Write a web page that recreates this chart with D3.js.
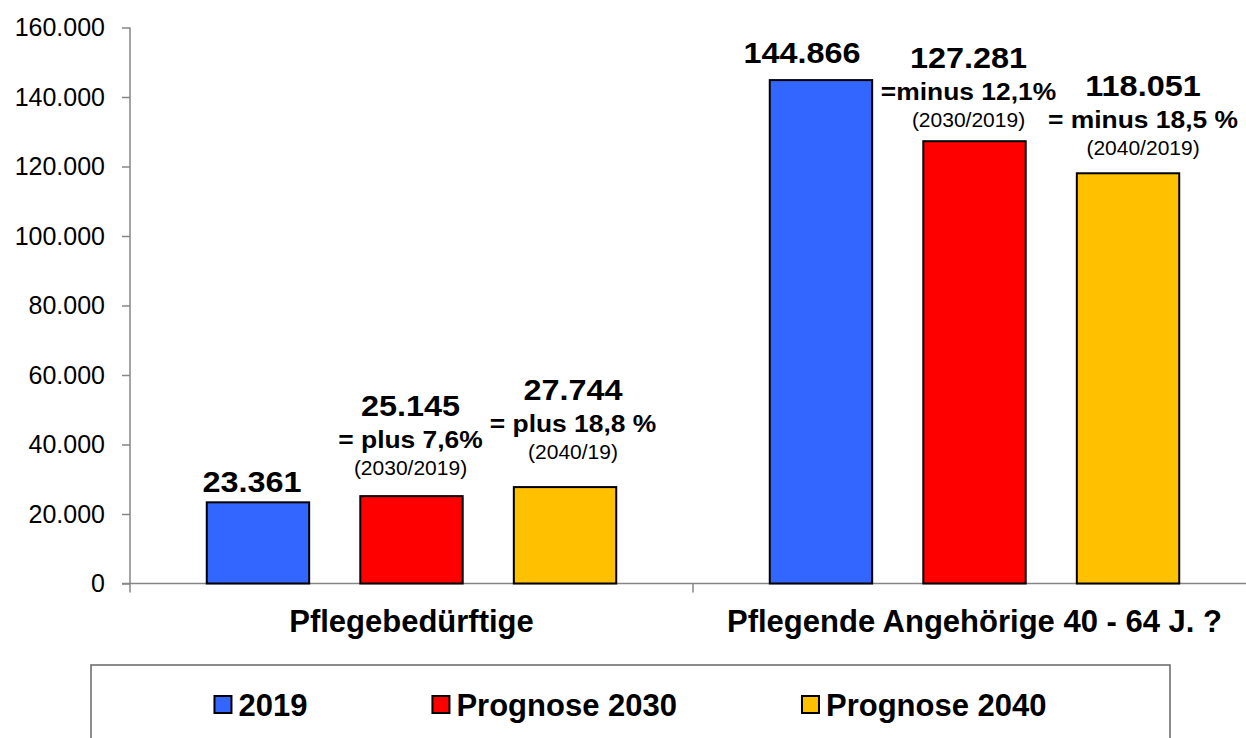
<!DOCTYPE html>
<html>
<head>
<meta charset="utf-8">
<script src="https://cdn.jsdelivr.net/npm/d3@7"></script>
<style>
  body { margin: 0; background: #fff; }
  svg { display: block; font-family: "Liberation Sans", Arial, sans-serif; }
</style>
</head>
<body>
<div id="chart"></div>
<script>
// data
var categories = ["Pflegebedürftige", "Pflegende Angehörige 40 - 64 J. ?"];
var seriesNames = ["2019", "Prognose 2030", "Prognose 2040"];
var values2019 = [23361, 144866];
var values2030 = [25145, 127281];
var values2040 = [27744, 118051];
var change2030 = ["= plus 7,6%", "=minus 12,1%"];
var change2040 = ["= plus 18,8 %", "= minus 18,5 %"];
var basis2030 = ["(2030/2019)", "(2030/2019)"];
var basis2040 = ["(2040/19)", "(2040/2019)"];
var yTickValues = [0, 20000, 40000, 60000, 80000, 100000, 120000, 140000, 160000];

var colors = ["#3366FF", "#FF0000", "#FFC000"];

// hand placed label nudges [dx, lift above bar top], per category then series
var labelNudge = [
    [[-6, 10], [-1, 21], [8, 28]],
    [[-19, 17], [-6, 14], [15, 18]]
];

var width = 1246, height = 738;
var svg = d3.select("#chart").append("svg").attr("width", width).attr("height", height);

var de = d3.formatLocale({decimal: ",", thousands: ".", grouping: [3], currency: ["", " €"]});
var fmt = de.format(",d");

var y = d3.scaleLinear().domain([0, 160000]).range([583.5, 27.5]);
var x0 = d3.scaleBand().domain(categories).range([130, 1256]).padding(0);
var x1 = d3.scaleBand().domain(seriesNames).range([0, x0.bandwidth()]).paddingInner(0.333).paddingOuter(0.5);

var allValues = [values2019, values2030, values2040];
var rows = [];
categories.forEach(function(c, ci) {
    seriesNames.forEach(function(s, si) {
        var lines = [fmt(allValues[si][ci])];
        if (si == 1) { lines.push(change2030[ci]); lines.push(basis2030[ci]); }
        if (si == 2) { lines.push(change2040[ci]); lines.push(basis2040[ci]); }
        rows.push({cat: c, ci: ci, series: s, si: si, value: allValues[si][ci], lines: lines});
    });
});

var axisColor = "#868686";

// y axis
var yAxis = svg.append("g").attr("transform", "translate(130,0)")
    .call(d3.axisLeft(y).tickValues(yTickValues).tickSize(8).tickSizeOuter(0).tickPadding(17).tickFormat(fmt));
yAxis.attr("font-family", null);
yAxis.selectAll("path, line").attr("stroke", axisColor).attr("stroke-width", 1.5);
yAxis.selectAll("text").attr("font-size", 25).attr("fill", "#000");
yAxis.select(".domain").attr("d", "M0," + y(160000) + "V" + (y(0) + 9));

// x axis line and category separators
svg.append("line").attr("x1", 122).attr("x2", x0.range()[1]).attr("y1", y(0)).attr("y2", y(0))
    .attr("stroke", axisColor).attr("stroke-width", 1.5);
svg.selectAll(".sep").data(categories.slice(1).concat(["end"])).enter().append("line")
    .attr("x1", function(d, i) { return x0.range()[0] + x0.step() * (i + 1); })
    .attr("x2", function(d, i) { return x0.range()[0] + x0.step() * (i + 1); })
    .attr("y1", y(0)).attr("y2", y(0) + 9)
    .attr("stroke", axisColor).attr("stroke-width", 1.5);

svg.selectAll(".cat").data(categories).enter().append("text")
    .attr("x", function(d) { return x0(d) + x0.bandwidth() / 2; })
    .attr("y", 632)
    .attr("text-anchor", "middle").attr("font-size", 31).attr("font-weight", "bold")
    .text(function(d) { return d; });

// bars
svg.selectAll(".bar").data(rows).enter().append("rect")
    .attr("x", function(d) { return x0(d.cat) + x1(d.series); })
    .attr("y", function(d) { return y(d.value); })
    .attr("width", x1.bandwidth())
    .attr("height", function(d) { return y(0) - y(d.value); })
    .attr("fill", function(d) { return colors[d.si]; })
    .attr("stroke", "#000").attr("stroke-width", 2);

// value labels
var lineGap = [32, 27];
rows.forEach(function(d) {
    var nudge = labelNudge[d.ci][d.si];
    var cx = x0(d.cat) + x1(d.series) + x1.bandwidth() / 2 + nudge[0];
    var base = y(d.value) - nudge[1];
    var n = d.lines.length;
    var ys = [];
    var cur = base;
    for (var i = n - 1; i >= 0; i--) {
        ys[i] = cur;
        if (i > 0) cur -= lineGap[i - 1];
    }
    d.lines.forEach(function(t, i) {
        var size = i == 0 ? 30 : (i == 1 ? 24 : 21);
        var sx = i == 0 ? 1.08 : (i == 1 ? 1.1 : 1);
        svg.append("text")
            .attr("transform", "translate(" + cx + "," + ys[i] + ") scale(" + sx + ",1)")
            .attr("text-anchor", "middle")
            .attr("font-size", size)
            .attr("font-weight", i == 2 ? "normal" : "bold")
            .text(t);
    });
});

// legend
var legendBox = {x: 91, y: 665, w: 1079, h: 100};
svg.append("rect").attr("x", legendBox.x).attr("y", legendBox.y)
    .attr("width", legendBox.w).attr("height", legendBox.h)
    .attr("fill", "#fff").attr("stroke", "#666").attr("stroke-width", 1.5);

var leg = svg.append("g");
var items = leg.selectAll(".item").data(seriesNames).enter().append("g");
items.append("rect").attr("width", 17).attr("height", 17).attr("y", -20)
    .attr("fill", function(d, i) { return colors[i]; })
    .attr("stroke", "#000").attr("stroke-width", 2);
items.append("text").attr("x", 24).attr("font-size", 31).attr("font-weight", "bold")
    .text(function(d) { return d; });

var pos = 0;
items.each(function() {
    var w = 24 + d3.select(this).select("text").node().getComputedTextLength();
    d3.select(this).attr("data-x", pos);
    pos += w + 125;
});
var total = pos - 125;
var startX = legendBox.x + legendBox.w / 2 - total / 2;
items.attr("transform", function() {
    return "translate(" + (startX + (+d3.select(this).attr("data-x"))) + ",716)";
});
</script>
</body>
</html>
